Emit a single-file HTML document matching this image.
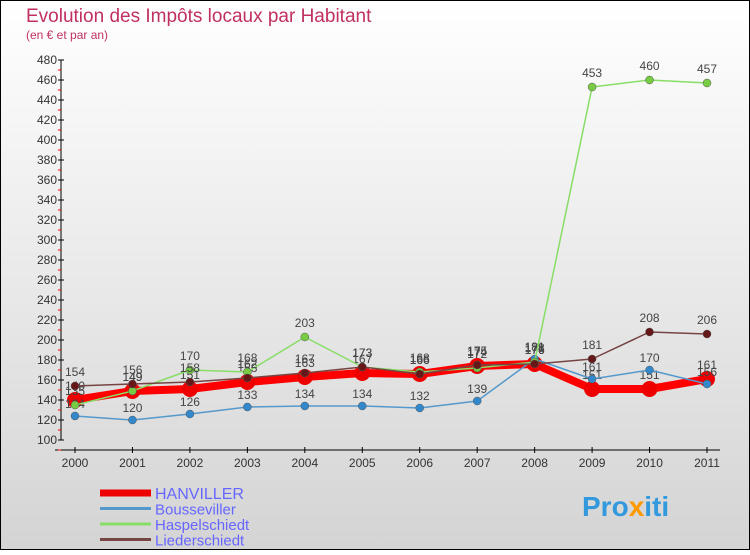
<!DOCTYPE html>
<html><head><meta charset="utf-8"><style>
body{margin:0;width:750px;height:550px;overflow:hidden;font-family:"Liberation Sans",sans-serif}
</style></head><body>
<svg id="c" width="750" height="550" xmlns="http://www.w3.org/2000/svg">
<defs><linearGradient id="bg" x1="0" y1="0" x2="0" y2="1"><stop offset="0" stop-color="#ffffff"/><stop offset="1" stop-color="#d4d4d4"/></linearGradient></defs>
<rect x="0.5" y="0.5" width="749" height="549" fill="url(#bg)" stroke="#000"/>
<text x="26" y="22" font-size="19" fill="#c03060">Evolution des Impôts locaux par Habitant</text>
<text x="26" y="39" font-size="12" fill="#c03060">(en € et par an)</text>
<g id="axes"></g><g id="series"></g><g id="legend"></g>
<text x="582" y="516" font-size="28" font-weight="bold" fill="#3399dd">Pro<tspan fill="#ff9900">x</tspan>iti</text>
</svg>
<script>
const years=["2000","2001","2002","2003","2004","2005","2006","2007","2008","2009","2010","2011"];
const yTicks=[100,120,140,160,180,200,220,240,260,280,300,320,340,360,380,400,420,440,460,480];
const hanviller=[140,149,151,158,163,167,166,174,176,151,151,161];
const bousseviller=[124,120,126,133,134,134,132,139,181,161,170,156];
const haspelschiedt=[135,149,170,168,203,173,168,172,178,453,460,457];
const liederschiedt=[154,156,158,162,167,173,166,175,176,181,208,206];
const NS="http://www.w3.org/2000/svg";
function X(i){return 75+i*(707-75)/11;}
function Y(v){return 440-(v-100)*(380/380);}
function mk(tag,attrs,parent){const e=document.createElementNS(NS,tag);for(const k in attrs)e.setAttribute(k,attrs[k]);parent.appendChild(e);return e;}
const ax=document.getElementById('axes');
let l=mk('line',{x1:61,y1:60,x2:61,y2:440,stroke:'#000'},ax);


l=mk('line',{x1:55,y1:450,x2:720,y2:450,stroke:'#000'},ax);


yTicks.forEach(v=>{
 mk('line',{x1:58,y1:Y(v),x2:64,y2:Y(v),stroke:'#000'},ax);
 mk('line',{x1:58,y1:Y(v)+10,x2:61,y2:Y(v)+10,stroke:'#e00'},ax);
 const t=mk('text',{x:57,y:Y(v)+4,'font-size':12,fill:'#333','text-anchor':'end'},ax);
 t.textContent=v;
 
 
});
years.forEach((y,i)=>{
 mk('line',{x1:X(i),y1:447,x2:X(i),y2:453,stroke:'#000'},ax);
 const t=mk('text',{x:X(i),y:467,'font-size':12,fill:'#333','text-anchor':'middle'},ax);
 t.textContent=y;
 
 
});
const sg=document.getElementById('series');
const series=[
 {name:'bousseviller',data:bousseviller,color:'#5599cc',w:1.5,r:4,fill:'#3388cc',lab:'Bousseviller'},
 {name:'haspelschiedt',data:haspelschiedt,color:'#88dd66',w:1.5,r:4,fill:'#77cc44',lab:'Haspelschiedt'},
 {name:'liederschiedt',data:liederschiedt,color:'#774444',w:1.5,r:4,fill:'#661818',lab:'Liederschiedt'},
 {name:'hanviller',data:hanviller,color:'#ff0000',w:8,r:8,fill:'#ee0000',lab:'HANVILLER'}
];
[series[3],series[0],series[1],series[2]].forEach(s=>{
 const g=mk('g',{},sg);
 
 
 const pts=s.data.map((v,i)=>X(i)+','+Y(v)).join(' ');
 const p=mk('polyline',{points:pts,fill:'none',stroke:s.color,'stroke-width':s.w,'stroke-linejoin':'round'},g);
 
 
 s.data.forEach((v,i)=>{
  const c=mk('circle',{cx:X(i),cy:Y(v),r:s.r,fill:s.fill,stroke:s.name==='hanviller'?'none':'#555','stroke-width':0.5},g);
  
  
  const t=mk('text',{x:X(i),y:Y(v)-(s.name==='bousseviller'?8:10),'font-size':12,fill:'#444','text-anchor':'middle'},g);
  t.textContent=v;
  
  
 });
});
const lg=document.getElementById('legend');
const lgItems=[series[3],series[0],series[1],series[2]];
lgItems.forEach((s,i)=>{
 const y=493+i*15.5;
 const g=mk('g',{},lg);
 
 
 mk('line',{x1:100,y1:y,x2:151,y2:y,stroke:s.name==='hanviller'?'#ee0000':s.color,'stroke-width':s.name==='hanviller'?7:3},g);
 const t=mk('text',{x:155,y:y+6,'font-size':s.name==='hanviller'?16:15,fill:'#6666ff'},g);
 t.textContent=s.lab;
});
</script>
</body></html>
